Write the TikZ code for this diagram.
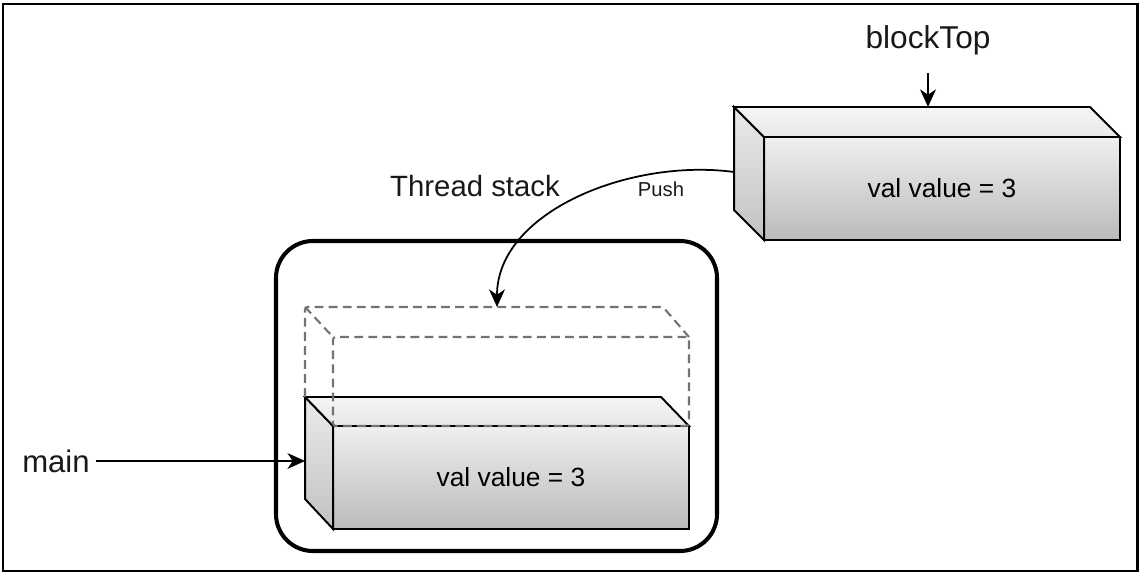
\documentclass[tikz,border=0pt]{standalone}
\usepackage{fontspec}
\setmainfont{Liberation Sans}
\usetikzlibrary{arrows.meta, positioning, calc}

\begin{document}
\begin{tikzpicture}[x=0.02cm, y=-0.02cm,
  boxfront/.style={draw, line width=1.1pt, outer sep=0pt, inner sep=0pt, top color=black!6, bottom color=black!27, minimum width=7.12cm, minimum height=2.06cm, font=\fontsize{15}{18}\selectfont},
  boxface/.style={draw, line width=1.1pt},
  ghostface/.style={draw=black!55, line width=1.2pt, dash pattern=on 5pt off 3pt, rounded corners=1.5pt},
  arr/.style={-{Stealth[length=10pt, width=9pt, inset=3pt]}, line width=1pt},
  lbl/.style={font=\fontsize{#1}{#1}\selectfont, text=black!90}
]
\useasboundingbox (0,0) rectangle (1140,574);

% frame and thread stack
\draw[line width=1.7pt] (3,4) rectangle (1137,571);
\draw[line width=2.3pt, rounded corners=21pt] (276,241) rectangle (717,551);

% block on top (to be pushed)
\node[boxfront] (blockfront) at (942,188.5) {val value = 3};
\draw[boxface, top color=black!8, bottom color=black!24] (blockfront.north west) -- ++(-30,-30) -- ++(0,103) -- (blockfront.south west) -- cycle;
\draw[boxface, top color=black!4, bottom color=black!9] (blockfront.north west) -- ++(-30,-30) -- ++(356,0) -- (blockfront.north east) -- cycle;
\coordinate (blockback) at ($(blockfront.north west)+(-30,-30)$);
\coordinate (blockside) at ($(blockfront.west)+(-30,-16.5)$);

% main block in the stack
\node[boxfront] (mainfront) at (511,477.5) {val value = 3};
\draw[boxface, top color=black!8, bottom color=black!24] (mainfront.north west) -- ++(-28,-29) -- ++(0,102) -- (mainfront.south west) -- cycle;
\draw[boxface, top color=black!4, bottom color=black!9] (mainfront.north west) -- ++(-28,-29) -- ++(356,0) -- (mainfront.north east) -- cycle;
\coordinate (mainback) at ($(mainfront.north west)+(-28,-29)$);

% empty slot
\node[ghostface, minimum width=7.12cm, minimum height=1.78cm, outer sep=0pt] (ghost) at (511,381.5) {};
\draw[ghostface] ($(ghost.south west)+(-28,-29)$) -- ++(0,-90) -- ++(358,0) -- (ghost.north east);
\draw[ghostface] ($(ghost.north west)+(-28,-30)$) -- (ghost.north west);
\coordinate (ghosttop) at ($(ghost.north)+(-14,-30)$);

% labels
\node[lbl=18pt] (lblTop) at (928,40) {blockTop};
\node[lbl=17.7pt] (lblMain) at (56,461) {main};
\node[lbl=16.7pt] (lblStack) at (475,186) {Thread stack};
\node[lbl=11.5pt] (lblPush) at (661,189) {Push};

% arrows
\draw[arr, shorten <=0.24cm] (lblTop) -- (lblTop |- blockback);
\draw[arr] (lblMain) -- (lblMain -| mainback);
\draw[arr] (blockside) .. controls (630,158) and (497,212) .. (ghosttop);

\end{tikzpicture}
\end{document}
